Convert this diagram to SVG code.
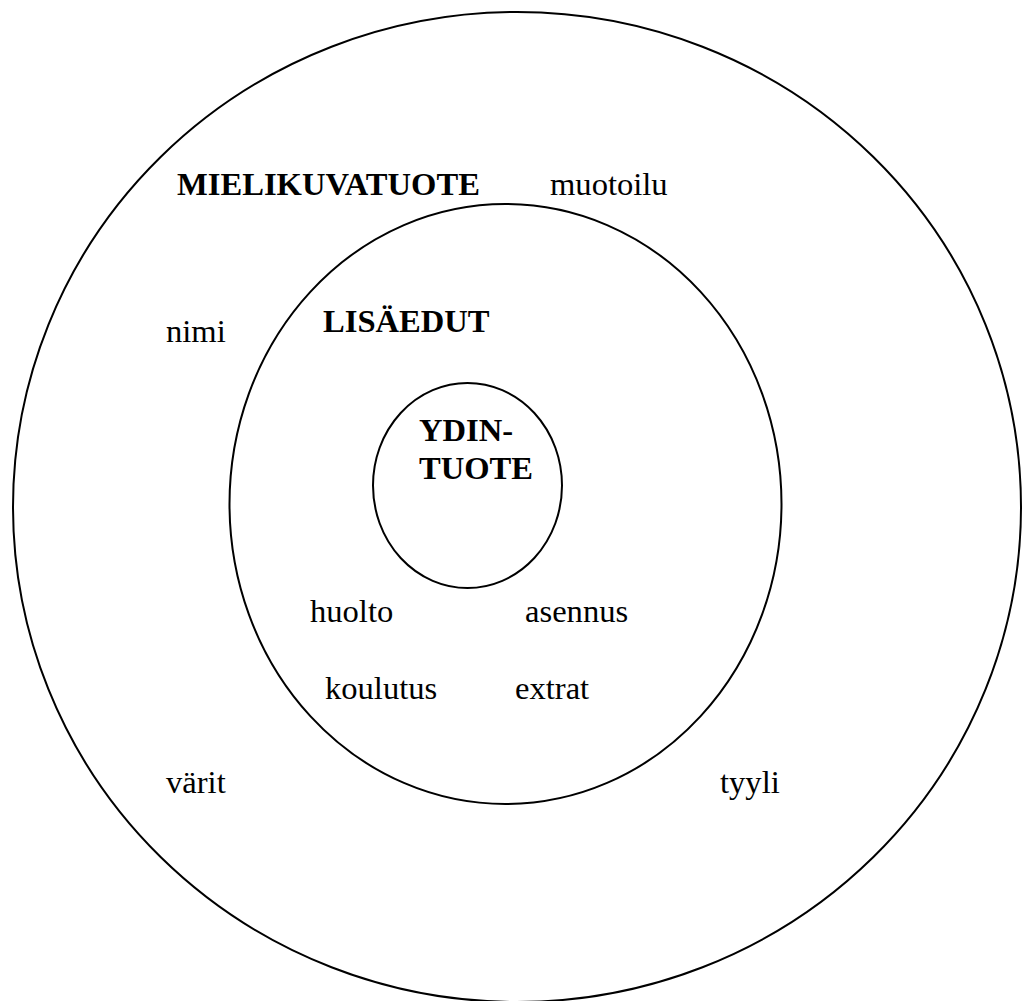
<svg xmlns="http://www.w3.org/2000/svg" width="1023" height="1001" viewBox="0 0 1023 1001">
<style>
.ring{fill:none;stroke:#000;stroke-width:2}
.t{font-family:"Liberation Serif","Times New Roman",serif;font-size:32.6px;fill:#000}
.b{font-weight:bold}
</style>
<rect width="1023" height="1001" fill="#fff"/>
<g id="outer">
<ellipse class="ring" cx="517" cy="507" rx="504" ry="495"/>
<text class="t b" x="177" y="195">MIELIKUVATUOTE</text>
<text class="t" x="550" y="195">muotoilu</text>
<text class="t" x="166" y="342">nimi</text>
<text class="t" x="166" y="793">värit</text>
<text class="t" x="720" y="793">tyyli</text>
</g>
<g id="middle">
<ellipse class="ring" cx="505.5" cy="504" rx="276" ry="300"/>
<text class="t b" x="323" y="332">LISÄEDUT</text>
<text class="t" x="310" y="622">huolto</text>
<text class="t" x="525" y="622">asennus</text>
<text class="t" x="325" y="699">koulutus</text>
<text class="t" x="515" y="699">extrat</text>
</g>
<g id="core">
<ellipse class="ring" cx="467.5" cy="485.5" rx="94.5" ry="102.5"/>
<text class="t b" x="419" y="441">YDIN-</text>
<text class="t b" x="419" y="479">TUOTE</text>
</g>
<g id="connectors"></g>
</svg>
